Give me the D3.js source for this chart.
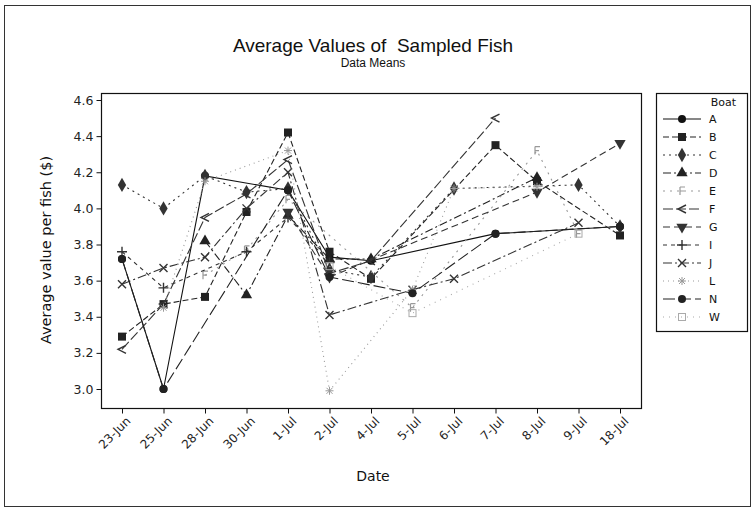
<!DOCTYPE html>
<html>
<head>
<meta charset="utf-8">
<script src="https://cdn.jsdelivr.net/npm/d3@7"></script>
<style>
  html, body { margin: 0; padding: 0; background: #fff; }
  svg { display: block; }
  text { font-family: "DejaVu Sans", Verdana, sans-serif; fill: #111; }
</style>
</head>
<body>
<svg id="chart" width="755" height="511"></svg>
<script>
// Sampling dates (category axis)
const dates = ["23-Jun", "25-Jun", "28-Jun", "30-Jun", "1-Jul", "2-Jul", "4-Jul",
               "5-Jul", "6-Jul", "7-Jul", "8-Jul", "9-Jul", "18-Jul"];

// Mean value per fish for each boat on each date (null = boat not sampled)
const boatA = [3.72, 3.00, 4.18, null, 4.10, 3.73, 3.71, null, null, 3.86, null, null, 3.90];
const boatB = [3.29, 3.47, 3.51, 3.98, 4.42, 3.76, 3.61, null, null, 4.35, 4.15, null, 3.85];
const boatC = [4.13, 4.00, 4.18, 4.09, 4.11, 3.66, 3.62, null, 4.11, null, null, 4.13, 3.90];
const boatD = [null, null, 3.82, 3.52, 3.96, 3.72, 3.72, null, null, null, 4.17, null, null];
const boatE = [null, null, 3.63, 3.77, 4.05, null, null, 3.45, null, null, 4.32, 3.86, null];
const boatF = [3.22, 3.47, 3.95, 4.08, 4.27, 3.64, 3.71, null, null, 4.50, null, null, null];
const boatG = [null, null, null, null, 3.98, 3.62, null, null, null, null, 4.09, null, 4.36];
const boatI = [3.76, 3.56, null, 3.76, 3.95, 3.70, null, null, null, null, null, null, null];
const boatJ = [3.58, 3.67, 3.73, 4.00, 4.20, 3.41, null, 3.55, 3.61, null, null, 3.92, null];
const boatL = [null, 3.45, 4.15, null, 4.32, 2.99, null, 3.55, 4.11, null, 4.12, null, null];
const boatN = [3.72, 3.00, null, null, 4.10, 3.62, null, 3.53, null, 3.86, null, null, 3.90];
const boatW = [null, null, null, null, null, 3.68, null, 3.42, null, null, null, 3.86, null];

const boatNames = ["A", "B", "C", "D", "E", "F", "G", "I", "J", "L", "N", "W"];
const boatValues = [boatA, boatB, boatC, boatD, boatE, boatF, boatG, boatI, boatJ, boatL, boatN, boatW];

const yTicks = [3.0, 3.2, 3.4, 3.6, 3.8, 4.0, 4.2, 4.4, 4.6];

// Line and symbol style for each boat
const styles = {
  A: { dash: null,        color: "#111", sym: "circle" },
  B: { dash: "6,3",       color: "#222", sym: "square" },
  C: { dash: "2,4",       color: "#333", sym: "diamond" },
  D: { dash: "8,3,2,3",   color: "#222", sym: "triangle" },
  E: { dash: "2,5",       color: "#999", sym: "e" },
  F: { dash: "10,3",      color: "#333", sym: "ltri" },
  G: { dash: "7,4",       color: "#333", sym: "itri" },
  I: { dash: "4,4",       color: "#333", sym: "plus" },
  J: { dash: "9,3,2,3",   color: "#333", sym: "x" },
  L: { dash: "1,4",       color: "#999", sym: "star" },
  N: { dash: "12,4",      color: "#222", sym: "circle" },
  W: { dash: "1,5",       color: "#aaa", sym: "osquare" }
};

const svg = d3.select("#chart");

// Outer frame of the graph window
svg.append("rect").attr("x", 4.5).attr("y", 5.5).attr("width", 746).attr("height", 501)
  .attr("fill", "none").attr("stroke", "#333").attr("stroke-width", 1);

// Titles
svg.append("text").attr("x", 373).attr("y", 52).attr("text-anchor", "middle")
  .style("font-family", "'Liberation Sans', Arial, sans-serif").style("font-size", "19px")
  .style("white-space", "pre")
  .text("Average Values of  Sampled Fish");
svg.append("text").attr("x", 373).attr("y", 67).attr("text-anchor", "middle")
  .style("font-family", "'Liberation Sans', Arial, sans-serif").style("font-size", "12px")
  .text("Data Means");

const plot = { left: 101, right: 641, top: 93, bottom: 408 };

const x = d3.scalePoint().domain(dates).range([122, 620]);
const y = d3.scaleLinear().domain([3.0, 4.6]).range([389, 100]);

// Plot frame
svg.append("rect").attr("x", plot.left + 0.5).attr("y", plot.top + 0.5)
  .attr("width", plot.right - plot.left).attr("height", plot.bottom - plot.top)
  .attr("fill", "none").attr("stroke", "#111").attr("stroke-width", 1.2);

// Y axis
const yAxis = d3.axisLeft(y).tickValues(yTicks).tickFormat(d3.format(".1f")).tickSize(5).tickPadding(3);
const gy = svg.append("g").attr("transform", `translate(${plot.left + 0.5},0)`).call(yAxis);
gy.select(".domain").remove();
gy.selectAll("text").style("font-size", "12.5px").style("fill", "#222");
gy.selectAll("line").attr("stroke", "#111");

// X axis
const xAxis = d3.axisBottom(x).tickSize(5).tickPadding(4);
const gx = svg.append("g").attr("transform", `translate(0,${plot.bottom + 0.5})`).call(xAxis);
gx.select(".domain").remove();
gx.selectAll("line").attr("stroke", "#111");
gx.selectAll("text")
  .style("font-size", "12px").style("fill", "#222")
  .attr("text-anchor", "end")
  .attr("dx", "-0.1em").attr("dy", "0.3em")
  .attr("transform", "rotate(-45) translate(-2,3)");

// Axis titles
svg.append("text").attr("x", 373).attr("y", 481).attr("text-anchor", "middle")
  .style("font-size", "14px").text("Date");
svg.append("text").attr("transform", "translate(51,250) rotate(-90)").attr("text-anchor", "middle")
  .style("font-size", "14.5px").text("Average value per fish ($)");

// Marker drawing
function drawSymbol(g, sym, color) {
  const s = 4;
  switch (sym) {
    case "circle":
      g.append("circle").attr("r", 4).attr("fill", color).attr("stroke", "none"); break;
    case "square":
      g.append("rect").attr("x", -s).attr("y", -s).attr("width", 2 * s).attr("height", 2 * s).attr("fill", color); break;
    case "diamond":
      g.append("path").attr("d", d3.symbol(d3.symbolDiamond, 60)()).attr("fill", color); break;
    case "triangle":
      g.append("path").attr("d", d3.symbol(d3.symbolTriangle, 55)()).attr("fill", color); break;
    case "itri":
      g.append("path").attr("d", d3.symbol(d3.symbolTriangle, 55)()).attr("transform", "rotate(180)").attr("fill", color); break;
    case "ltri":
      g.append("path").attr("d", "M4,-4 L-4,0 L4,4").attr("fill", "none").attr("stroke", color).attr("stroke-width", 1.4); break;
    case "plus":
      g.append("path").attr("d", "M-5,0 H5 M0,-5 V5").attr("stroke", color).attr("stroke-width", 1.4); break;
    case "x":
      g.append("path").attr("d", "M-4,-4 L4,4 M-4,4 L4,-4").attr("stroke", color).attr("stroke-width", 1.4); break;
    case "star":
      g.append("path").attr("d", "M-4,0 H4 M0,-4 V4 M-3,-3 L3,3 M-3,3 L3,-3").attr("stroke", color).attr("stroke-width", 1); break;
    case "e":
      g.append("path").attr("d", "M-2,-4 V4 M-2,-4 H3 M-2,0 H2").attr("fill", "none").attr("stroke", color).attr("stroke-width", 1.2); break;
    case "osquare":
      g.append("rect").attr("x", -3.5).attr("y", -3.5).attr("width", 7).attr("height", 7)
        .attr("fill", "none").attr("stroke", color).attr("stroke-width", 1); break;
  }
}

// Series lines and markers
const line = d3.line().x(d => x(d.date)).y(d => y(d.value));
boatNames.forEach((name, i) => {
  const st = styles[name];
  const pts = boatValues[i].map((v, j) => ({ date: dates[j], value: v })).filter(d => d.value !== null);
  svg.append("path").datum(pts).attr("d", line)
    .attr("fill", "none").attr("stroke", st.color).attr("stroke-width", 1.1)
    .attr("stroke-dasharray", st.dash);
  pts.forEach(d => {
    const g = svg.append("g").attr("transform", `translate(${x(d.date)},${y(d.value)})`);
    drawSymbol(g, st.sym, st.color);
  });
});

// Legend
const lg = { x: 656, y: 93, w: 91, h: 238 };
svg.append("rect").attr("x", lg.x + 0.5).attr("y", lg.y + 0.5).attr("width", lg.w).attr("height", lg.h)
  .attr("fill", "#fff").attr("stroke", "#111").attr("stroke-width", 1.2);
svg.append("text").attr("x", 736).attr("y", 106).attr("text-anchor", "end")
  .style("font-size", "11px").text("Boat");
boatNames.forEach((name, i) => {
  const st = styles[name];
  const cy = 119 + i * 18;
  svg.append("line").attr("x1", 663).attr("x2", 701).attr("y1", cy).attr("y2", cy)
    .attr("stroke", st.color).attr("stroke-width", 1.2).attr("stroke-dasharray", st.dash);
  const g = svg.append("g").attr("transform", `translate(682,${cy})`);
  drawSymbol(g, st.sym, st.color);
  svg.append("text").attr("x", 709).attr("y", cy + 4).style("font-size", "11px").text(name);
});
</script>
</body>
</html>
